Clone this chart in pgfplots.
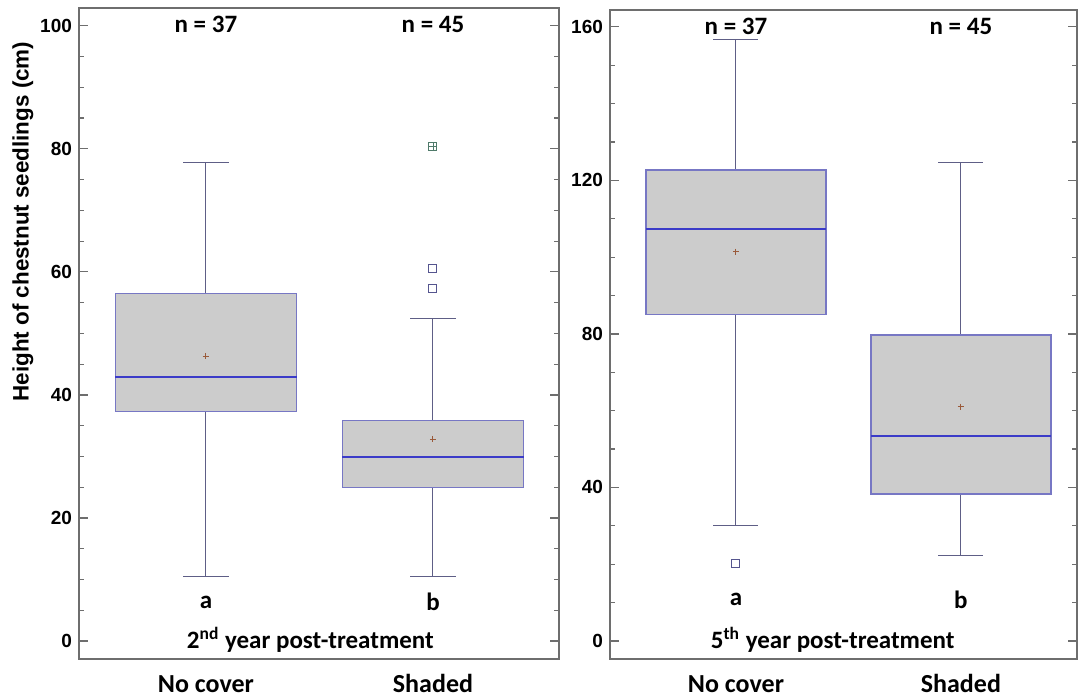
\documentclass[border=0pt]{standalone}
\usepackage{fontspec}
\setmainfont{Carlito}
\newfontfamily\arialfont{Liberation Sans}
\usepackage{pgfplots}
\pgfplotsset{compat=1.18}
\usepgfplotslibrary{statistics}

\definecolor{boxfill}{HTML}{CCCCCC}
\definecolor{boxedge}{HTML}{7777C4}
\definecolor{medcol}{HTML}{3B3BC8}
\definecolor{whiskcol}{HTML}{5E5E86}
\definecolor{meancol}{HTML}{9A5A3A}
\definecolor{outcol}{HTML}{55558F}
\definecolor{faroutcol}{HTML}{4F7A6A}
\definecolor{spine}{HTML}{6E6E6E}

\tikzset{lbl/.style={font=\bfseries\fontsize{12.5}{13}\selectfont}}

\pgfplotsset{
  mypanel/.style={
    scale only axis,
    axis line style={spine, line width=0.7pt},
    tick style={spine, line width=0.6pt},
    major tick length=4.5pt, minor tick length=2.5pt,
    minor y tick num=3,
    xtick={0,1}, xticklabels={No cover, Shaded},
    x tick style={draw=none},
    xticklabel style={font=\bfseries\fontsize{13}{13}\selectfont, yshift=-3.5pt,
      text height=9.5pt, text depth=2.5pt},
    yticklabel style={font=\arialfont\bfseries\fontsize{9.5}{10}\selectfont},
    /pgf/number format/assume math mode=true,
    boxplot/draw direction=y,
    boxplot/box extend=0.8,
    boxplot/whisker extend=0.2,
    boxplot/every box/.style={draw=boxedge, fill=boxfill, line width=0.6pt},
    boxplot/every whisker/.style={draw=whiskcol, line width=0.5pt},
    boxplot/every median/.style={draw=medcol, line width=0.9pt},
  },
  outl/.style={mark=square, mark size=2pt, mark options={draw=outcol, fill=white, line width=0.5pt}},
  meanm/.style={only marks, mark=+, mark size=1.6pt, mark options={draw=meancol, line width=0.5pt}},
}

\begin{document}
\begin{tikzpicture}
\path[use as bounding box] (0,0) rectangle (539pt,349.5pt);

% ---------- Left panel: 2nd year ----------
\begin{axis}[mypanel,
  at={(39.5pt,20pt)}, anchor=south west,
  width=240pt, height=325.5pt,
  xmin=-0.559, xmax=1.555, ymin=-2.93, ymax=102.9,
  ytick={0,20,40,60,80,100},
  ylabel={Height of chestnut seedlings (cm)},
  ylabel style={font=\arialfont\bfseries\fontsize{11.2}{12}\selectfont,
    at={(axis description cs:-0.117,0.672)}, anchor=center},
]
\addplot[outl, boxplot prepared={draw position=0, lower whisker=10.5, lower quartile=37.3,
  median=42.9, upper quartile=56.5, upper whisker=77.8}] coordinates {};
\addplot[outl, boxplot prepared={draw position=1, lower whisker=10.4, lower quartile=25.0,
  median=29.9, upper quartile=35.9, upper whisker=52.4}]
  table[row sep=\\, y index=0] {60.6\\57.3\\};
\addplot[only marks, mark=square, mark size=2pt, mark options={draw=faroutcol, line width=0.5pt}] coordinates {(1,80.4)};
\addplot[only marks, mark=+, mark size=2pt, mark options={draw=faroutcol, line width=0.4pt}] coordinates {(1,80.4)};
\addplot[meanm] coordinates {(0,46.3) (1,32.8)};
\node[lbl] at (axis cs:0,100.3) {n = 37};
\node[lbl] at (axis cs:1,100.3) {n = 45};
\node[lbl] at (axis cs:0,6.3) {a};
\node[lbl] at (axis cs:1,6.3) {b};
\node[lbl] at (axis cs:0.46,0.2) {2\textsuperscript{nd} year post-treatment};
\end{axis}

% ---------- Right panel: 5th year ----------
\begin{axis}[mypanel,
  at={(305pt,20pt)}, anchor=south west,
  width=233.5pt, height=324.5pt,
  xmin=-0.56, xmax=1.516, ymin=-4.7, ymax=164.4,
  ytick={0,40,80,120,160},
]
\addplot[outl, boxplot prepared={draw position=0, lower whisker=30.2, lower quartile=85.0,
  median=107.4, upper quartile=122.7, upper whisker=156.6}]
  table[row sep=\\, y index=0] {20.1\\};
\addplot[outl, boxplot prepared={draw position=1, lower whisker=22.2, lower quartile=38.3,
  median=53.4, upper quartile=79.7, upper whisker=124.6}] coordinates {};
\addplot[meanm] coordinates {(0,101.4) (1,61.0)};
\node[lbl] at (axis cs:0,160) {n = 37};
\node[lbl] at (axis cs:1,160) {n = 45};
\node[lbl] at (axis cs:0,10.7) {a};
\node[lbl] at (axis cs:1,10.7) {b};
\node[lbl] at (axis cs:0.43,0.3) {5\textsuperscript{th} year post-treatment};
\end{axis}
\end{tikzpicture}
\end{document}
